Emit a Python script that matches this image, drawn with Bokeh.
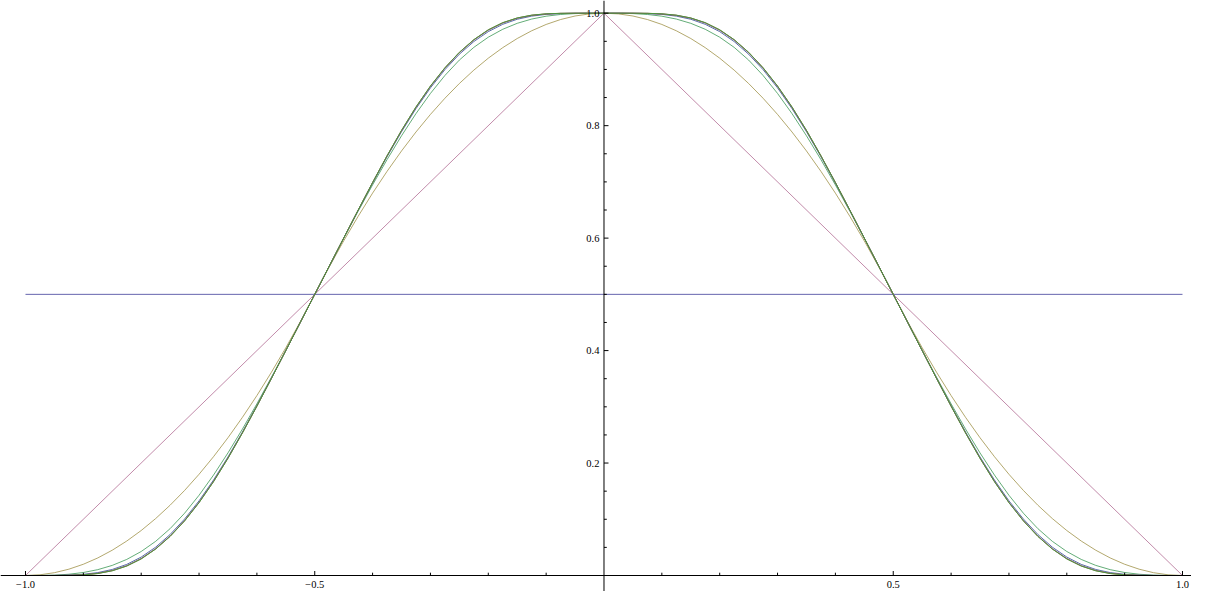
import numpy as np
from bokeh.plotting import figure
from bokeh.models import Span
from bokeh.core.properties import value
from bokeh.embed import file_html
from bokeh.resources import INLINE

# ---------------- data ----------------
x_left = [-1.0, -0.975, -0.95, -0.925, -0.9, -0.875, -0.85, -0.825, -0.8, -0.775,
          -0.75, -0.725, -0.7, -0.675, -0.65, -0.625, -0.6, -0.575, -0.55, -0.525,
          -0.5, -0.475, -0.45, -0.425, -0.4, -0.375, -0.35, -0.325, -0.3, -0.275,
          -0.25, -0.225, -0.2, -0.175, -0.15, -0.125, -0.1, -0.075, -0.05, -0.025, 0.0]
x_right = [0.0, 0.025, 0.05, 0.075, 0.1, 0.125, 0.15, 0.175, 0.2, 0.225,
           0.25, 0.275, 0.3, 0.325, 0.35, 0.375, 0.4, 0.425, 0.45, 0.475,
           0.5, 0.525, 0.55, 0.575, 0.6, 0.625, 0.65, 0.675, 0.7, 0.725,
           0.75, 0.775, 0.8, 0.825, 0.85, 0.875, 0.9, 0.925, 0.95, 0.975, 1.0]

x_const = [-1.0, 1.0]
y_const = [0.5, 0.5]

x_tri = [-1.0, 0.0, 1.0]
y_tri = [0.0, 1.0, 0.0]

f2_left = [0.0, 0.00125, 0.005, 0.01125, 0.02, 0.03125, 0.045, 0.06125, 0.08, 0.10125,
           0.125, 0.15125, 0.18, 0.21125, 0.245, 0.28125, 0.32, 0.36125, 0.405, 0.45125,
           0.5, 0.54875, 0.595, 0.63875, 0.68, 0.71875, 0.755, 0.78875, 0.82, 0.84875,
           0.875, 0.89875, 0.92, 0.93875, 0.955, 0.96875, 0.98, 0.98875, 0.995, 0.99875, 1.0]
f2_right = [1.0, 0.99875, 0.995, 0.98875, 0.98, 0.96875, 0.955, 0.93875, 0.92, 0.89875,
            0.875, 0.84875, 0.82, 0.78875, 0.755, 0.71875, 0.68, 0.63875, 0.595, 0.54875,
            0.5, 0.45125, 0.405, 0.36125, 0.32, 0.28125, 0.245, 0.21125, 0.18, 0.15125,
            0.125, 0.10125, 0.08, 0.06125, 0.045, 0.03125, 0.02, 0.01125, 0.005, 0.00125, 0.0]

f3_left = [0.0, 0.00008, 0.00067, 0.00225, 0.00533, 0.01042, 0.018, 0.02858, 0.04267, 0.06075,
           0.08333, 0.11075, 0.14267, 0.17858, 0.218, 0.26042, 0.30533, 0.35225, 0.40067, 0.45008,
           0.5, 0.54992, 0.59933, 0.64775, 0.69467, 0.73958, 0.782, 0.82142, 0.85733, 0.88925,
           0.91667, 0.93925, 0.95733, 0.97142, 0.982, 0.98958, 0.99467, 0.99775, 0.99933, 0.99992, 1.0]
f3_right = [1.0, 0.99992, 0.99933, 0.99775, 0.99467, 0.98958, 0.982, 0.97142, 0.95733, 0.93925,
            0.91667, 0.88925, 0.85733, 0.82142, 0.782, 0.73958, 0.69467, 0.64775, 0.59933, 0.54992,
            0.5, 0.45008, 0.40067, 0.35225, 0.30533, 0.26042, 0.218, 0.17858, 0.14267, 0.11075,
            0.08333, 0.06075, 0.04267, 0.02858, 0.018, 0.01042, 0.00533, 0.00225, 0.00067, 0.00008, 0.0]

f4_left = [0.0, 0.00001, 0.00013, 0.00068, 0.00213, 0.00521, 0.01078, 0.01974, 0.03278, 0.05041,
           0.07292, 0.10041, 0.13278, 0.16974, 0.21078, 0.25521, 0.30213, 0.35068, 0.40013, 0.45001,
           0.5, 0.54999, 0.59987, 0.64932, 0.69787, 0.74479, 0.78922, 0.83026, 0.86722, 0.89959,
           0.92708, 0.94959, 0.96722, 0.98026, 0.98922, 0.99479, 0.99787, 0.99932, 0.99987, 0.99999, 1.0]
f4_right = [1.0, 0.99999, 0.99987, 0.99932, 0.99787, 0.99479, 0.98922, 0.98026, 0.96722, 0.94959,
            0.92708, 0.89959, 0.86722, 0.83026, 0.78922, 0.74479, 0.69787, 0.64932, 0.59987, 0.54999,
            0.5, 0.45001, 0.40013, 0.35068, 0.30213, 0.25521, 0.21078, 0.16974, 0.13278, 0.10041,
            0.07292, 0.05041, 0.03278, 0.01974, 0.01078, 0.00521, 0.00213, 0.00068, 0.00013, 0.00001, 0.0]

f5_left = [0.0, 0.0, 0.00004, 0.00032, 0.00135, 0.00391, 0.00897, 0.01749, 0.03027, 0.04781,
           0.07031, 0.09781, 0.13027, 0.16749, 0.20897, 0.25391, 0.30135, 0.35032, 0.40004, 0.45,
           0.5, 0.55, 0.59996, 0.64968, 0.69865, 0.74609, 0.79103, 0.83251, 0.86973, 0.90219,
           0.92969, 0.95219, 0.96973, 0.98251, 0.99103, 0.99609, 0.99865, 0.99968, 0.99996, 1.0, 1.0]
f5_right = [1.0, 1.0, 0.99996, 0.99968, 0.99865, 0.99609, 0.99103, 0.98251, 0.96973, 0.95219,
            0.92969, 0.90219, 0.86973, 0.83251, 0.79103, 0.74609, 0.69865, 0.64968, 0.59996, 0.55,
            0.5, 0.45, 0.40004, 0.35032, 0.30135, 0.25391, 0.20897, 0.16749, 0.13027, 0.09781,
            0.07031, 0.04781, 0.03027, 0.01749, 0.00897, 0.00391, 0.00135, 0.00032, 0.00004, 0.0, 0.0]

f6_left = [0.0, 0.0, 0.00002, 0.00024, 0.00115, 0.00358, 0.00851, 0.01692, 0.02964, 0.04716,
           0.06966, 0.09716, 0.12964, 0.16692, 0.20851, 0.25358, 0.30115, 0.35024, 0.40002, 0.45,
           0.5, 0.55, 0.59998, 0.64976, 0.69885, 0.74642, 0.79149, 0.83308, 0.87036, 0.90284,
           0.93034, 0.95284, 0.97036, 0.98308, 0.99149, 0.99642, 0.99885, 0.99976, 0.99998, 1.0, 1.0]
f6_right = [1.0, 1.0, 0.99998, 0.99976, 0.99885, 0.99642, 0.99149, 0.98308, 0.97036, 0.95284,
            0.93034, 0.90284, 0.87036, 0.83308, 0.79149, 0.74642, 0.69885, 0.64976, 0.59998, 0.55,
            0.5, 0.45, 0.40002, 0.35024, 0.30115, 0.25358, 0.20851, 0.16692, 0.12964, 0.09716,
            0.06966, 0.04716, 0.02964, 0.01692, 0.00851, 0.00358, 0.00115, 0.00024, 0.00002, 0.0, 0.0]

f7_left = [0.0, 0.0, 0.00002, 0.00022, 0.0011, 0.0035, 0.0084, 0.01678, 0.02948, 0.047,
           0.0695, 0.097, 0.12948, 0.16678, 0.2084, 0.2535, 0.3011, 0.35022, 0.40002, 0.45,
           0.5, 0.55, 0.59998, 0.64978, 0.6989, 0.7465, 0.7916, 0.83322, 0.87052, 0.903,
           0.9305, 0.953, 0.97052, 0.98322, 0.9916, 0.9965, 0.9989, 0.99978, 0.99998, 1.0, 1.0]
f7_right = [1.0, 1.0, 0.99998, 0.99978, 0.9989, 0.9965, 0.9916, 0.98322, 0.97052, 0.953,
            0.9305, 0.903, 0.87052, 0.83322, 0.7916, 0.7465, 0.6989, 0.64978, 0.59998, 0.55,
            0.5, 0.45, 0.40002, 0.35022, 0.3011, 0.2535, 0.2084, 0.16678, 0.12948, 0.097,
            0.0695, 0.047, 0.02948, 0.01678, 0.0084, 0.0035, 0.0011, 0.00022, 0.00002, 0.0, 0.0]

x_major_ticks = [-1.0, -0.5, 0.5, 1.0]
x_major_labels = ["\u22121.0", "\u22120.5", "0.5", "1.0"]
x_minor_ticks = [-0.9, -0.8, -0.7, -0.6, -0.4, -0.3, -0.2, -0.1,
                 0.1, 0.2, 0.3, 0.4, 0.6, 0.7, 0.8, 0.9]
y_major_ticks = [0.2, 0.4, 0.6, 0.8, 1.0]
y_major_labels = ["0.2", "0.4", "0.6", "0.8", "1.0"]
y_minor_ticks = [0.05, 0.1, 0.15, 0.25, 0.3, 0.35, 0.45, 0.5, 0.55,
                 0.65, 0.7, 0.75, 0.85, 0.9, 0.95]

colors = ["#3F3D99", "#993D71", "#998B3D", "#3D9956",
          "#3D5A99", "#993D8F", "#996D3D", "#43993D"]
alphas = [0.8, 0.6, 0.75, 0.8, 0.85, 0.85, 0.85, 0.9]

# ---------------- figure ----------------
W, H = 1191, 591
p = figure(width=W, height=H, output_backend="svg", toolbar_location=None,
           x_range=(-1.0432, 1.01556), y_range=(-0.02845, 1.02259),
           x_axis_type=None, y_axis_type=None, min_border=0,
           background_fill_color="white", border_fill_color="white")
p.outline_line_color = None
p.grid.visible = False

x_full = x_left + x_right[1:]
curves = [f2_left + f2_right[1:], f3_left + f3_right[1:], f4_left + f4_right[1:],
          f5_left + f5_right[1:], f6_left + f6_right[1:], f7_left + f7_right[1:]]

# curves (drawn in order, last on top)
p.line(x_const, y_const, line_color=colors[0], line_width=1, line_alpha=alphas[0])
p.line(x_tri, y_tri, line_color=colors[1], line_width=1, line_alpha=alphas[1])
for ys, c, a in zip(curves, colors[2:], alphas[2:]):
    p.line(x_full, ys, line_color=c, line_width=1, line_alpha=a)

# axes through the origin
p.add_layout(Span(location=0, dimension="width", line_color="black", line_width=1))
p.add_layout(Span(location=0, dimension="height", line_color="black", line_width=1))

# ticks
p.ray(x=x_major_ticks, y=[0] * len(x_major_ticks), length=4.5, length_units="screen",
      angle=np.pi / 2, line_color="black", line_width=1)
p.ray(x=x_minor_ticks, y=[0] * len(x_minor_ticks), length=2.8, length_units="screen",
      angle=np.pi / 2, line_color="black", line_width=1)
p.ray(x=[0] * len(y_major_ticks), y=y_major_ticks, length=4.5, length_units="screen",
      angle=0, line_color="black", line_width=1)
p.ray(x=[0] * len(y_minor_ticks), y=y_minor_ticks, length=2.8, length_units="screen",
      angle=0, line_color="black", line_width=1)

# tick labels
p.text(x=x_major_ticks, y=[0] * len(x_major_ticks), text=x_major_labels,
       text_align="center", text_baseline="middle", y_offset=8.5,
       text_font=value("Liberation Serif"), text_font_size="10.5px", text_color="black")
p.text(x=[0] * len(y_major_ticks), y=y_major_ticks, text=y_major_labels,
       text_align="right", text_baseline="middle", x_offset=-4.5,
       text_font=value("Liberation Serif"), text_font_size="10.5px", text_color="black")

open("out.html", "w").write(file_html(p, INLINE))
